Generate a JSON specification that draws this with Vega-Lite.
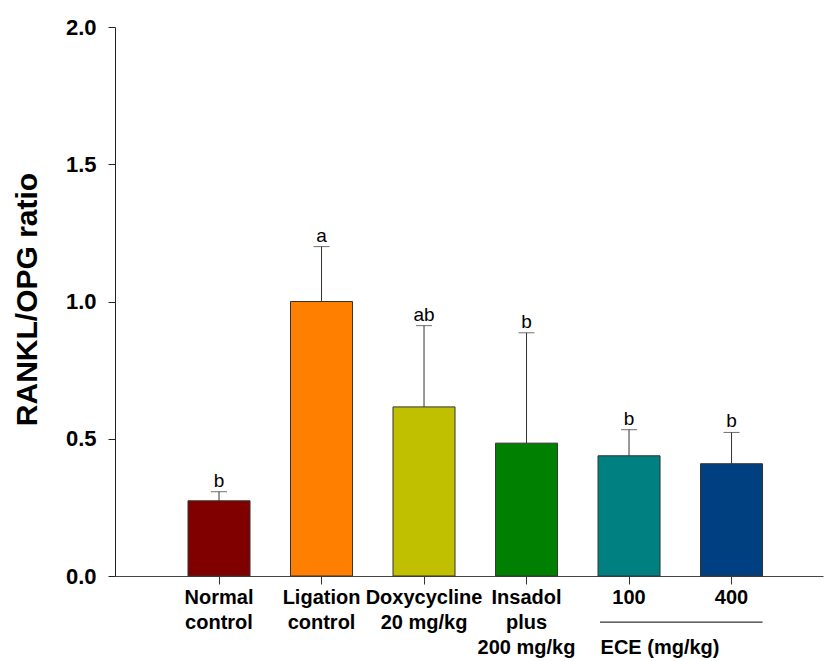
{
  "$schema": "https://vega.github.io/schema/vega-lite/v6.json",
  "autosize": "none",
  "width": 708,
  "height": 549,
  "padding": {"left": 115, "top": 27, "right": 5, "bottom": 85},
  "background": "white",
  "config": {
    "view": {"stroke": null},
    "font": "Liberation Sans"
  },
  "data": {
    "values": [
      {"group": "Normal\ncontrol", "value": 0.274, "upper": 0.307, "letter": "b"},
      {"group": "Ligation\ncontrol", "value": 1.0, "upper": 1.2, "letter": "a"},
      {"group": "Doxycycline\n20 mg/kg", "value": 0.616, "upper": 0.912, "letter": "ab"},
      {"group": "Insadol\nplus\n200 mg/kg", "value": 0.484, "upper": 0.886, "letter": "b"},
      {"group": "100", "value": 0.438, "upper": 0.533, "letter": "b"},
      {"group": "400", "value": 0.409, "upper": 0.523, "letter": "b"}
    ]
  },
  "encoding": {
    "x": {
      "field": "group",
      "type": "nominal",
      "sort": null,
      "scale": {"paddingInner": 0.395, "paddingOuter": 0.651, "align": 0.547},
      "axis": {
        "title": null,
        "labelAngle": 0,
        "labelExpr": "split(datum.label, '\\n')",
        "labelFont": "Liberation Sans",
        "labelFontSize": 20,
        "labelFontWeight": "bold",
        "labelColor": "black",
        "labelLineHeight": 25,
        "labelPadding": 3,
        "tickSize": 8,
        "tickColor": "#333333",
        "domainColor": "#444444",
        "labelBaseline": "top"
      }
    }
  },
  "layer": [
    {
      "mark": {"type": "bar", "stroke": "#333333", "strokeWidth": 1},
      "encoding": {
        "y": {
          "field": "value",
          "type": "quantitative",
          "scale": {"domain": [0, 2], "nice": false},
          "axis": {
            "title": "RANKL/OPG ratio",
            "values": [0, 0.5, 1, 1.5, 2],
            "format": ".1f",
            "grid": false,
            "tickSize": 7,
            "tickColor": "#222222",
            "domainColor": "#222222",
            "labelFont": "Liberation Sans",
            "labelFontSize": 22,
            "labelFontWeight": "bold",
            "labelColor": "black",
            "labelPadding": 12,
            "titleFont": "Liberation Sans",
            "titleFontSize": 30,
            "titleFontWeight": "bold",
            "titleColor": "black",
            "titleAngle": -90,
            "titleAlign": "center",
            "titleBaseline": "middle",
            "titleX": -88,
            "titleY": 272
          }
        },
        "color": {
          "field": "group",
          "type": "nominal",
          "sort": null,
          "legend": null,
          "scale": {
            "domain": ["Normal\ncontrol", "Ligation\ncontrol", "Doxycycline\n20 mg/kg", "Insadol\nplus\n200 mg/kg", "100", "400"],
            "range": ["#800000", "#FF8000", "#C0C000", "#008000", "#008080", "#004080"]
          }
        }
      }
    },
    {
      "mark": {"type": "rule", "color": "#333333", "strokeWidth": 1},
      "encoding": {
        "y": {"field": "value", "type": "quantitative"},
        "y2": {"field": "upper"}
      }
    },
    {
      "mark": {"type": "tick", "color": "#333333", "thickness": 1, "size": 16},
      "encoding": {
        "y": {"field": "upper", "type": "quantitative"}
      }
    },
    {
      "mark": {"type": "text", "fontSize": 19, "font": "Liberation Sans", "color": "black", "baseline": "alphabetic", "dy": -5},
      "encoding": {
        "y": {"field": "upper", "type": "quantitative"},
        "text": {"field": "letter"}
      }
    },
    {
      "data": {"values": [{"group": "100", "group2": "400", "y": -0.168}]},
      "mark": {"type": "rule", "color": "black", "strokeWidth": 1, "xOffset": -29, "x2Offset": 31},
      "encoding": {
        "x": {"field": "group", "type": "nominal"},
        "x2": {"field": "group2"},
        "y": {"field": "y", "type": "quantitative"}
      }
    },
    {
      "data": {"values": [{"group": "100", "y": -0.262, "label": "ECE (mg/kg)"}]},
      "mark": {"type": "text", "fontSize": 20, "fontWeight": "bold", "font": "Liberation Sans", "color": "black", "baseline": "middle", "align": "center"},
      "encoding": {
        "x": {"field": "group", "type": "nominal", "bandPosition": 1},
        "y": {"field": "y", "type": "quantitative"},
        "text": {"field": "label"}
      }
    }
  ]
}
